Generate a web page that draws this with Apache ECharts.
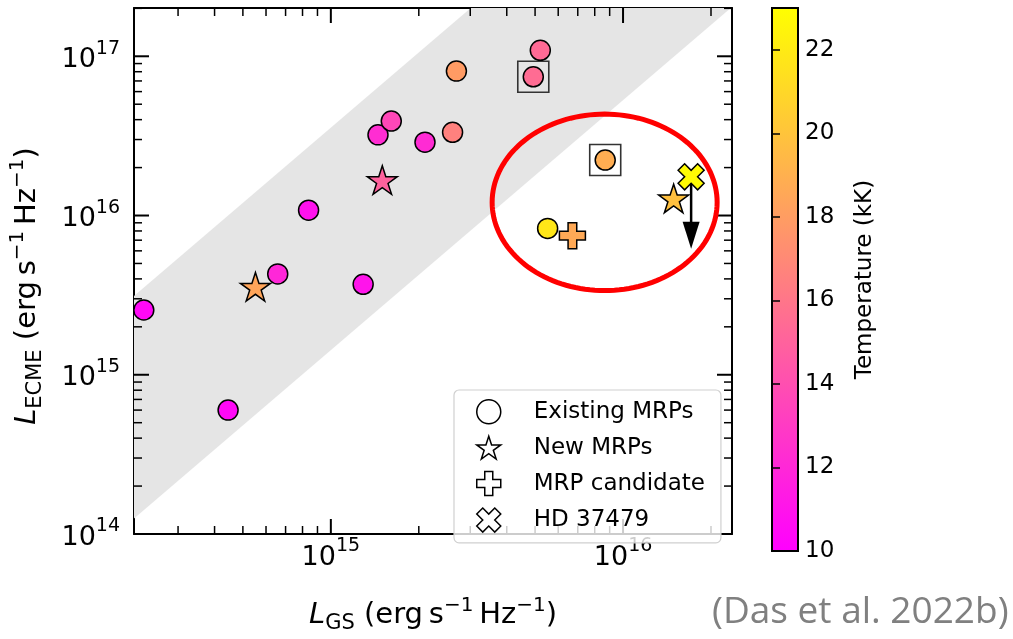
<!DOCTYPE html>
<html>
<head>
<meta charset="utf-8">
<script src="https://cdn.jsdelivr.net/npm/echarts@6/dist/echarts.min.js"></script>
<style>
  html, body { margin: 0; padding: 0; background: #fff; }
  #chart { width: 1013px; height: 639px; }
</style>
</head>
<body>
<div id="chart"></div>
<script>
// Luminosities in erg s^-1 Hz^-1, temperatures in kK
const existingGS   = [2.29e14, 4.45e14, 6.58e14, 8.39e14, 1.29e15, 1.45e15, 1.61e15, 2.10e15, 2.61e15, 2.69e15, 5.21e15, 4.93e15, 8.69e15, 5.52e15];
const existingECME = [2.55e15, 6.0e14, 4.3e15, 1.08e16, 3.7e15, 3.21e16, 3.92e16, 2.89e16, 3.33e16, 8.07e16, 1.09e17, 7.43e16, 2.23e16, 8.30e15];
const existingTemp = [10.4, 10.4, 12.0, 10.9, 11.0, 12.3, 13.6, 12.2, 16.6, 17.9, 15.4, 15.5, 18.8, 21.8];

const newGS   = [5.52e14, 1.50e15, 1.49e16];
const newECME = [3.57e15, 1.67e16, 1.28e16];
const newTemp = [18.4, 15.0, 19.8];

const candGS   = [6.71e15];
const candECME = [7.47e15];
const candTemp = [18.6];

const hdGS   = [1.71e16];
const hdECME = [1.75e16];
const hdTemp = [22.8];
const hdUpperLimit = [6.18e15];

// sources highlighted with an open square
const boxedGS   = [4.93e15, 8.69e15];
const boxedECME = [7.43e16, 2.23e16];

// shaded band: two parallel power-law edges, each given by two points
const bandUpper = [[1e14, 9.6e14], [1e17, 4.9e19]];
const bandLower = [[1e14, 3.84e13], [1e17, 1.97e18]];

// highlighted region: centre and half-widths in decades
const ringCentre = [8.65e15, 1.21e16];
const ringHalfDecades = [0.385, 0.554];

// axis ranges
const X_MIN = 2.12e14, X_MAX = 2.36e16;
const Y_MIN = 1e14,    Y_MAX = 2.01e17;
const T_MIN = 10, T_MAX = 23, T_STEP = 2;

const FONT = 'DejaVu Sans';

function starPath(inner) {
  let d = '';
  for (let i = 0; i < 10; i++) {
    const r = i % 2 === 0 ? 1 : inner;
    const a = Math.PI / 2 + i * Math.PI / 5;
    d += (i ? 'L' : 'M') + (r * Math.cos(a)).toFixed(4) + ',' + (-r * Math.sin(a)).toFixed(4);
  }
  return 'path://' + d + 'Z';
}
const plusVerts = [[-1,-3],[1,-3],[1,-1],[3,-1],[3,1],[1,1],[1,3],[-1,3],[-1,1],[-3,1],[-3,-1],[-1,-1]];
function polyPath(verts, angle) {
  const c = Math.cos(angle), s = Math.sin(angle);
  return 'path://' + verts.map((v, i) => (i ? 'L' : 'M') +
    (v[0] * c - v[1] * s).toFixed(4) + ',' + (v[0] * s + v[1] * c).toFixed(4)).join('') + 'Z';
}
const STAR = starPath(0.381966);
const PLUS = polyPath(plusVerts, 0);
const XMARK = polyPath(plusVerts, Math.PI / 4);

function zip3(a, b, c) { return a.map((v, i) => [v, b[i], c[i]]); }

function pow10Label(v) {
  const lg = Math.log10(v);
  const e = Math.round(lg);
  if (Math.abs(lg - e) > 1e-6) return '';
  return '{b|10}{s|' + e + '}';
}
const tickRich = {
  b: { fontFamily: FONT, fontSize: 27, lineHeight: 34, verticalAlign: 'bottom', color: '#000' },
  s: { fontFamily: FONT, fontSize: 19, lineHeight: 23, verticalAlign: 'top', color: '#000' }
};
const titleRich = {
  i:   { fontFamily: FONT, fontStyle: 'italic', fontSize: 29, lineHeight: 38, color: '#000' },
  n:   { fontFamily: FONT, fontSize: 29, lineHeight: 38, color: '#000' },
  sub: { fontFamily: FONT, fontSize: 21, lineHeight: 30, verticalAlign: 'bottom', color: '#000' },
  sup: { fontFamily: FONT, fontSize: 20, lineHeight: 23, verticalAlign: 'top', color: '#000' }
};
const AXIS_TITLE = sub => '{i|L}{sub|' + sub + '}{n| (erg\u2009s}{sup|\u22121}{n|\u2009Hz}{sup|\u22121}{n|)}';

function clipToRect(pts, x0, y0, x1, y1) {
  const planes = [
    [p => p[0] >= x0, (a, b) => { const t = (x0 - a[0]) / (b[0] - a[0]); return [x0, a[1] + t * (b[1] - a[1])]; }],
    [p => p[0] <= x1, (a, b) => { const t = (x1 - a[0]) / (b[0] - a[0]); return [x1, a[1] + t * (b[1] - a[1])]; }],
    [p => p[1] >= y0, (a, b) => { const t = (y0 - a[1]) / (b[1] - a[1]); return [a[0] + t * (b[0] - a[0]), y0]; }],
    [p => p[1] <= y1, (a, b) => { const t = (y1 - a[1]) / (b[1] - a[1]); return [a[0] + t * (b[0] - a[0]), y1]; }]
  ];
  let out = pts;
  for (const [inside, cut] of planes) {
    const src = out; out = [];
    for (let i = 0; i < src.length; i++) {
      const cur = src[i], prev = src[(i + src.length - 1) % src.length];
      if (inside(cur)) { if (!inside(prev)) out.push(cut(prev, cur)); out.push(cur); }
      else if (inside(prev)) out.push(cut(prev, cur));
    }
  }
  return out;
}

function renderBand(params, api) {
  const cs = params.coordSys;
  const pts = [bandUpper[0], bandUpper[1], bandLower[1], bandLower[0]].map(p => api.coord(p));
  return {
    type: 'polygon',
    shape: { points: clipToRect(pts, cs.x, cs.y, cs.x + cs.width, cs.y + cs.height) },
    style: { fill: '#e5e5e5' },
    silent: true
  };
}

// log ticks on all four sides, pointing inwards: long at 10^k, short at 2..9 x 10^k
function renderLogTicks(params, api) {
  const cs = params.coordSys;
  const children = [];
  const bottom = cs.y + cs.height, right = cs.x + cs.width;
  for (let k = 13; k <= 17; k++) {
    for (let m = 1; m <= 9; m++) {
      const v = m * Math.pow(10, k);
      const major = m === 1;
      const len = major ? 15 : 8;
      const style = { stroke: '#000', lineWidth: major ? 2 : 1.5 };
      if (v > X_MIN && v < X_MAX) {
        const px = api.coord([v, Y_MIN])[0];
        children.push({ type: 'line', shape: { x1: px, y1: bottom, x2: px, y2: bottom - len }, style });
        children.push({ type: 'line', shape: { x1: px, y1: cs.y, x2: px, y2: cs.y + len }, style });
      }
      if (v > Y_MIN && v < Y_MAX) {
        const py = api.coord([X_MIN, v])[1];
        children.push({ type: 'line', shape: { x1: cs.x, y1: py, x2: cs.x + len, y2: py }, style });
        children.push({ type: 'line', shape: { x1: right, y1: py, x2: right - len, y2: py }, style });
      }
    }
  }
  return { type: 'group', children, silent: true };
}

function renderArrow(params, api) {
  const p0 = api.coord([api.value(0), api.value(1)]);
  const p1 = api.coord([api.value(0), api.value(2)]);
  const headLen = 27, headHalf = 8.5;
  return {
    type: 'group',
    children: [
      { type: 'line', shape: { x1: p0[0], y1: p0[1], x2: p1[0], y2: p1[1] - headLen + 2 },
        style: { stroke: '#000', lineWidth: 2.5 } },
      { type: 'polygon', shape: { points: [[p1[0] - headHalf, p1[1] - headLen], [p1[0] + headHalf, p1[1] - headLen], [p1[0], p1[1]]] },
        style: { fill: '#000' } }
    ]
  };
}

function renderRing(params, api) {
  const lx = Math.log10(api.value(0)), ly = Math.log10(api.value(1));
  const pts = [];
  for (let i = 0; i < 144; i++) {
    const t = i / 144 * 2 * Math.PI;
    pts.push(api.coord([Math.pow(10, lx + ringHalfDecades[0] * Math.cos(t)),
                        Math.pow(10, ly + ringHalfDecades[1] * Math.sin(t))]));
  }
  return { type: 'polygon', shape: { points: pts }, style: { fill: 'none', stroke: '#ff0000', lineWidth: 5 }, silent: true };
}

const markerStyle = { borderColor: '#000', borderWidth: 1.5, opacity: 1 };
const logAxisLine = { show: true, lineStyle: { color: '#000', width: 2 } };

const chart = echarts.init(document.getElementById('chart'));
chart.setOption({
  animation: false,
  backgroundColor: '#fff',
  grid: [
    { left: 132, top: 8, width: 600, height: 543 },
    { left: 772, top: 8, width: 26, height: 543, show: true,
      backgroundColor: new echarts.graphic.LinearGradient(0, 0, 0, 1, [
        { offset: 0, color: '#ffff00' }, { offset: 1, color: '#ff00ff' }
      ]),
      borderColor: '#000', borderWidth: 2 }
  ],
  xAxis: [
    { type: 'log', gridIndex: 0, min: X_MIN, max: X_MAX, position: 'bottom',
      axisLine: logAxisLine, axisTick: { show: false }, splitLine: { show: false },
      axisLabel: { formatter: pow10Label, rich: tickRich, margin: 3 },
      name: AXIS_TITLE('GS'),
      nameLocation: 'middle', nameGap: 62, nameTextStyle: { rich: titleRich } },
    { type: 'log', gridIndex: 0, min: X_MIN, max: X_MAX, position: 'top',
      axisLine: logAxisLine, axisTick: { show: false }, splitLine: { show: false },
      axisLabel: { show: false } },
    { type: 'value', gridIndex: 1, min: 0, max: 1, show: false }
  ],
  yAxis: [
    { type: 'log', gridIndex: 0, min: Y_MIN, max: Y_MAX, position: 'left',
      axisLine: logAxisLine, axisTick: { show: false }, splitLine: { show: false },
      axisLabel: { formatter: pow10Label, rich: tickRich, margin: 14 },
      name: AXIS_TITLE('ECME'),
      nameLocation: 'middle', nameGap: 88, nameRotate: 90,
      nameTextStyle: { rich: titleRich, padding: [0, 30, 0, 0] } },
    { type: 'log', gridIndex: 0, min: Y_MIN, max: Y_MAX, position: 'right',
      axisLine: logAxisLine, axisTick: { show: false }, splitLine: { show: false },
      axisLabel: { show: false } },
    { type: 'value', gridIndex: 1, min: T_MIN, max: T_MAX, interval: T_STEP, position: 'right',
      axisLine: { show: false }, splitLine: { show: false },
      axisTick: { show: true, inside: false, length: 8, lineStyle: { color: '#000', width: 1.5 } },
      axisLabel: { margin: 7, fontFamily: FONT, fontSize: 23, color: '#000',
        formatter: v => (Number.isInteger(v) && v % T_STEP === 0) ? String(v) : '' },
      name: 'Temperature (kK)', nameLocation: 'middle', nameRotate: 90, nameGap: 56,
      nameTextStyle: { fontFamily: FONT, fontSize: 23, color: '#000' } }
  ],
  visualMap: {
    type: 'continuous', show: false, min: T_MIN, max: T_MAX, dimension: 2,
    seriesIndex: [4, 5, 6, 7],
    inRange: { color: ['#ff00ff', '#ffff00'] }
  },
  legend: {
    orient: 'vertical', left: 454, top: 390,
    padding: [9, 16, 10, 22], itemGap: 11, itemWidth: 24, itemHeight: 24,
    backgroundColor: 'rgba(255,255,255,0.8)', borderColor: '#d0d0d0', borderWidth: 1.2, borderRadius: 5,
    itemStyle: { color: '#fff', borderColor: '#000', borderWidth: 1.5 },
    textStyle: { fontFamily: FONT, fontSize: 23, color: '#000', padding: [0, 0, 0, 28] },
    selectedMode: false,
    data: [
      { name: 'Existing MRPs', icon: 'circle' },
      { name: 'New MRPs', icon: STAR },
      { name: 'MRP candidate', icon: PLUS },
      { name: 'HD 37479', icon: XMARK }
    ]
  },
  series: [
    { type: 'custom', name: 'band', xAxisIndex: 0, yAxisIndex: 0, z: 1,
      renderItem: renderBand, data: [[X_MIN, Y_MIN]], silent: true },
    { type: 'custom', name: 'log ticks', xAxisIndex: 0, yAxisIndex: 0, z: 3,
      renderItem: renderLogTicks, data: [[X_MIN, Y_MIN]], silent: true },
    { type: 'scatter', name: 'boxed', xAxisIndex: 0, yAxisIndex: 0, z: 2,
      symbol: 'rect', symbolSize: 31,
      itemStyle: { color: 'rgba(0,0,0,0)', borderColor: '#333', borderWidth: 1.6, opacity: 1 },
      data: boxedGS.map((v, i) => [v, boxedECME[i]]), silent: true },
    { type: 'custom', name: 'upper limit', xAxisIndex: 0, yAxisIndex: 0, z: 3,
      renderItem: renderArrow, data: zip3(hdGS, hdECME, hdUpperLimit), silent: true },
    { type: 'scatter', name: 'Existing MRPs', xAxisIndex: 0, yAxisIndex: 0, z: 4,
      symbol: 'circle', symbolSize: 20, itemStyle: markerStyle,
      data: zip3(existingGS, existingECME, existingTemp) },
    { type: 'scatter', name: 'New MRPs', xAxisIndex: 0, yAxisIndex: 0, z: 4,
      symbol: STAR, symbolSize: 30, symbolKeepAspect: true, itemStyle: markerStyle,
      data: zip3(newGS, newECME, newTemp) },
    { type: 'scatter', name: 'MRP candidate', xAxisIndex: 0, yAxisIndex: 0, z: 4,
      symbol: PLUS, symbolSize: 26, symbolKeepAspect: true, itemStyle: markerStyle,
      data: zip3(candGS, candECME, candTemp) },
    { type: 'scatter', name: 'HD 37479', xAxisIndex: 0, yAxisIndex: 0, z: 5,
      symbol: XMARK, symbolSize: 26, symbolKeepAspect: true, itemStyle: markerStyle,
      data: zip3(hdGS, hdECME, hdTemp) },
    { type: 'custom', name: 'highlight', xAxisIndex: 0, yAxisIndex: 0, z: 6,
      renderItem: renderRing, data: [ringCentre], silent: true }
  ],
  graphic: [
    { type: 'text', left: 712, top: 594, z: 10,
      style: { text: '(Das et al. 2022b)', font: '37px "Open Sans"', fill: '#808080' } }
  ]
});
</script>
</body>
</html>
